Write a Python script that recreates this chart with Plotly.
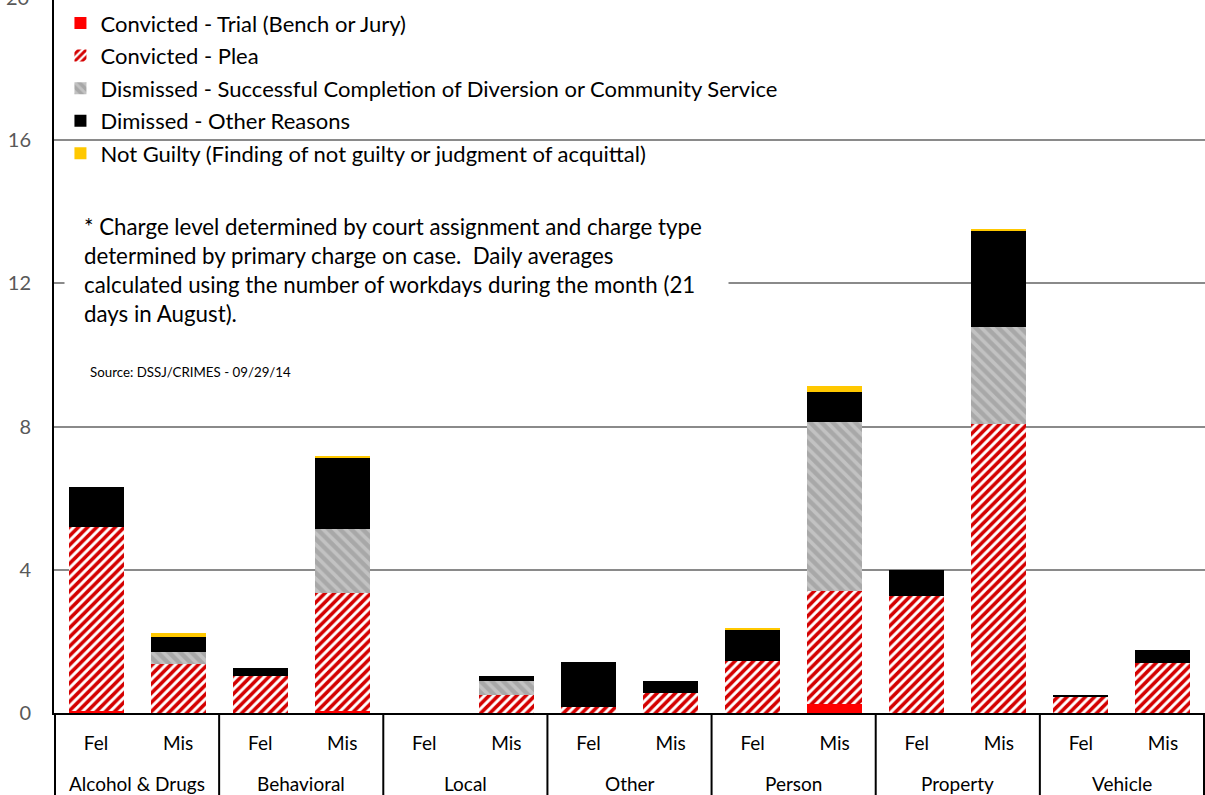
import plotly.graph_objects as go

categories = ["Alcohol & Drugs", "Behavioral", "Local", "Other", "Person", "Property", "Vehicle"]
levels = ["Fel", "Mis"]

trial      = [0.05, 0.00, 0.00, 0.05, 0.00, 0.00, 0.00, 0.00, 0.00, 0.26, 0.00, 0.00, 0.00, 0.00]
plea       = [5.14, 1.37, 1.03, 3.31, 0.00, 0.50, 0.18, 0.55, 1.46, 3.16, 3.28, 8.07, 0.47, 1.40]
diversion  = [0.00, 0.33, 0.00, 1.77, 0.00, 0.39, 0.00, 0.00, 0.00, 4.72, 0.00, 2.72, 0.00, 0.00]
other      = [1.12, 0.43, 0.24, 1.99, 0.00, 0.14, 1.24, 0.34, 0.86, 0.83, 0.71, 2.67, 0.03, 0.36]
not_guilty = [0.00, 0.10, 0.00, 0.06, 0.00, 0.00, 0.00, 0.00, 0.05, 0.16, 0.00, 0.06, 0.00, 0.00]

y_ticks = [0, 4, 8, 12, 16]
y_top_label = 20
y_max = 19.91

keys = [f"{c} | {l}" for c in categories for l in levels]
tick_text = [l for _ in categories for l in levels]

FONT = "Lato"
W, H = 1205, 795
ML, MB = 54, 82
PW, PH = W - ML, H - MB

fig = go.Figure()

series = [
    ("Convicted - Trial (Bench or Jury)", trial, dict(color="#ff0000")),
    ("Convicted - Plea", plea, dict(color="#ffffff",
        pattern=dict(shape="/", fgcolor="#d40000", bgcolor="#ffffff", fgopacity=1,
                     fillmode="replace", size=6.5, solidity=0.55))),
    ("Dismissed - Successful Completion of Diversion or Community Service", diversion,
        dict(color="#aaaaaa",
             pattern=dict(shape="\\", fgcolor="#c2c2c2", bgcolor="#a8a8a8", fgopacity=1,
                          fillmode="replace", size=8, solidity=0.45))),
    ("Dimissed - Other Reasons", other, dict(color="#000000")),
    ("Not Guilty (Finding of not guilty or judgment of acquittal)", not_guilty, dict(color="#ffc800")),
]

for i, (name, vals, mk) in enumerate(series):
    mk = dict(mk)
    mk["line"] = dict(width=0)
    fig.add_trace(go.Bar(name=name, x=keys, y=vals, marker=mk, legendgroup=f"g{i}"))

fig.update_layout(
    barmode="stack",
    bargap=0.33,
    width=W, height=H,
    margin=dict(l=ML, r=0, t=0, b=MB, autoexpand=False),
    paper_bgcolor="white", plot_bgcolor="white",
    font=dict(family=FONT, color="#000000"),
    showlegend=True,
    legend=dict(
        x=0.0056, y=0.997, xanchor="left", yanchor="top",
        traceorder="grouped", tracegroupgap=1,
        font=dict(size=22, family=FONT, color="#000000"),
        bgcolor="rgba(0,0,0,0)", itemwidth=30,
    ),
    xaxis=dict(
        type="category",
        tickvals=keys, ticktext=tick_text,
        showline=True, linecolor="#000000", linewidth=2,
        showgrid=False, ticks="", automargin=False,
        ticklabelstandoff=12,
        tickfont=dict(size=19, family=FONT, color="#000000"),
    ),
    yaxis=dict(
        range=[0, y_max],
        tickvals=y_ticks,
        showline=True, linecolor="#000000", linewidth=2,
        showgrid=True, gridcolor="#8a8a8a", gridwidth=2,
        zeroline=False, ticks="", automargin=False,
        ticklabelstandoff=17,
        tickfont=dict(size=20, family=FONT, color="#595959"),
    ),
)

# partially visible top tick label (axis max 20 lies just above the page, as in the original)
fig.add_annotation(
    x=-(ML - 31) / PW, xref="paper", y=y_top_label / y_max, yref="paper",
    xanchor="right", yanchor="middle",
    text=str(y_top_label), showarrow=False, font=dict(size=20, family=FONT, color="#595959"),
)

# category group labels and dividers below the axis
for gi, cat in enumerate(categories):
    fig.add_annotation(
        x=gi * len(levels) + (len(levels) - 1) / 2, xref="x",
        y=-70 / PH, yref="paper",
        xanchor="center", yanchor="middle",
        text=cat, showarrow=False, font=dict(size=19, family=FONT, color="#000000"),
    )
for gi in range(len(categories) + 1):
    fig.add_shape(
        type="line", xref="x", yref="paper",
        x0=gi * len(levels) - 0.5, x1=gi * len(levels) - 0.5,
        y0=0, y1=-MB / PH - 0.01,
        line=dict(color="#000000", width=2),
    )

note = ("* Charge level determined by court assignment and charge type<br>"
        "determined by primary charge on case.  Daily averages<br>"
        "calculated using the number of workdays during the month (21<br>"
        "days in August).")
fig.add_annotation(
    x=(64 - ML) / PW, xref="paper", y=(PH - 269.5) / PH, yref="paper",
    xanchor="left", yanchor="middle", align="left",
    text=note, showarrow=False, width=625, borderpad=19, bgcolor="#ffffff",
    font=dict(size=22.3, family=FONT, color="#000000"),
)

fig.add_annotation(
    x=(88 - ML) / PW, xref="paper", y=(PH - 372) / PH, yref="paper",
    xanchor="left", yanchor="middle", align="left",
    text="Source: DSSJ/CRIMES - 09/29/14", showarrow=False,
    font=dict(size=13.3, family=FONT, color="#000000"),
)

fig.write_html("out.html", config={"displayModeBar": False},
               post_script="document.body.style.margin='0';")
